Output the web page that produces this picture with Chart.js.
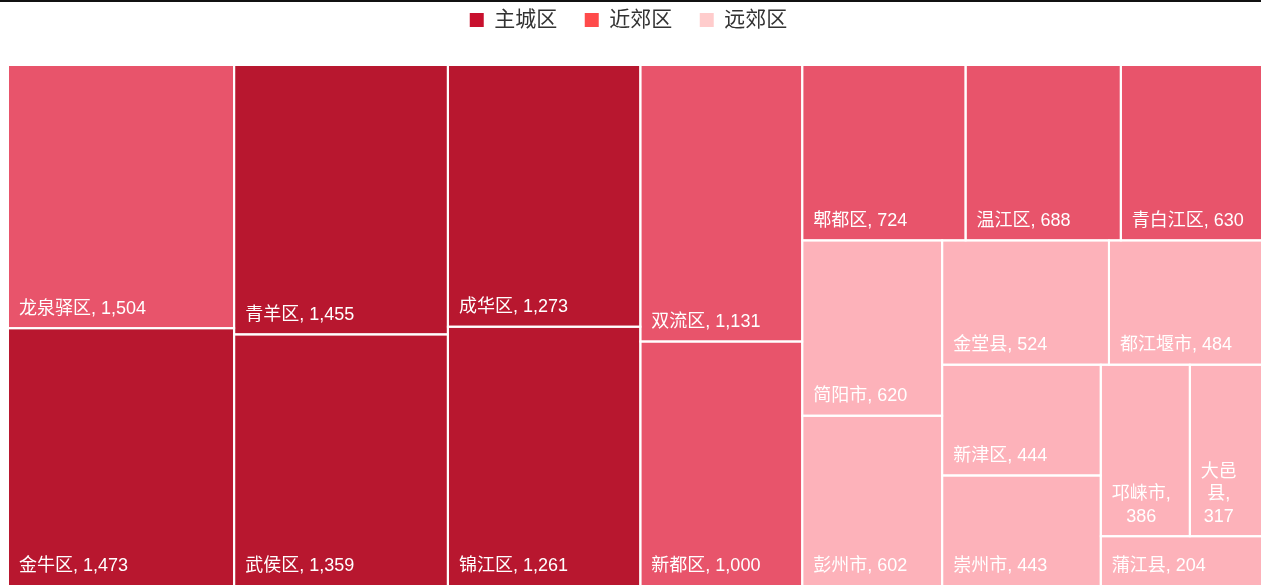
<!DOCTYPE html>
<html lang="zh-CN">
<head>
<meta charset="utf-8">
<title>成都各区县人口</title>
<script src="https://cdn.jsdelivr.net/npm/chart.js@4/dist/chart.umd.min.js"></script>
<style>
  html, body { margin: 0; padding: 0; background: #ffffff; overflow: hidden; }
  #wrap { position: relative; width: 1261px; height: 586px; overflow: hidden; }
  #topRule { position: absolute; left: 0; top: 0; width: 100%; height: 2px; background: #111111; }
  canvas { display: block; }
</style>
</head>
<body>
<div id="wrap">
  <canvas id="chart" width="1263" height="586"></canvas>
  <div id="topRule"></div>
</div>
<script>
// 区县名称与常住人口（万人）
const districts = ['龙泉驿区', '金牛区', '青羊区', '武侯区', '成华区', '锦江区', '双流区', '新都区',
  '郫都区', '温江区', '青白江区', '简阳市', '彭州市', '金堂县', '都江堰市', '新津区', '崇州市',
  '邛崃市', '大邑县', '蒲江县'];
const population = [1504, 1473, 1455, 1359, 1273, 1261, 1131, 1000, 724, 688, 630, 620, 602, 524,
  484, 444, 443, 386, 317, 204];
const zoneOfDistrict = ['近郊区', '主城区', '主城区', '主城区', '主城区', '主城区', '近郊区', '近郊区',
  '近郊区', '近郊区', '近郊区', '远郊区', '远郊区', '远郊区', '远郊区', '远郊区', '远郊区',
  '远郊区', '远郊区', '远郊区'];
const zones = ['主城区', '近郊区', '远郊区'];

// 图例色块与方块填充色
const zoneLegendColors = ['#c8102e', '#ff4b4b', '#ffcccc'];
const zoneCellColors = ['#b8172f', '#e8546b', '#fdb2ba'];

const FONT_FAMILY = '"Liberation Sans", "Noto Sans CJK SC", sans-serif';
// preferred cell shape (height / width) used when growing a strip
const PREFERRED_SHAPE = 1.19;
// width of the page that is actually visible
const VISIBLE_WIDTH = 1261;

// Strip treemap: each strip runs along the shorter side of the space that is left,
// and keeps taking the next cell while the newest cell's shape gets closer to the
// preferred shape than the previous newest cell was.
function stripLayout(values, width, height) {
  const rects = new Array(values.length);
  let rx = 0, ry = 0, rw = width, rh = height;
  let remaining = values.reduce((a, b) => a + b, 0);
  const miss = r => Math.abs(Math.log(r / PREFERRED_SHAPE));
  let i = 0;
  while (i < values.length) {
    const alongTop = rw < rh;
    const side = alongTop ? rw : rh;
    const depth = s => (s / remaining) * (alongTop ? rh : rw);
    const shape = (v, s) => {
      const t = depth(s);
      const len = (v / s) * side;
      return alongTop ? t / len : len / t;
    };
    let sum = values[i];
    let j = i + 1;
    while (j < values.length) {
      const before = miss(shape(values[j - 1], sum));
      const after = miss(shape(values[j], sum + values[j]));
      if (after > before) break;
      sum += values[j];
      j++;
    }
    const t = depth(sum);
    let offset = 0;
    for (let k = i; k < j; k++) {
      const len = (values[k] / sum) * side;
      rects[k] = alongTop
        ? { x: rx + offset, y: ry, w: len, h: t }
        : { x: rx, y: ry + offset, w: t, h: len };
      offset += len;
    }
    if (alongTop) { ry += t; rh -= t; } else { rx += t; rw -= t; }
    remaining -= sum;
    i = j;
  }
  return rects;
}

// wrap a label into lines: CJK characters break anywhere, numbers stay whole
function wrapLabel(ctx, text, maxWidth) {
  const tokens = text.match(/[\u4e00-\u9fff][,，]?|\s+|[^\s\u4e00-\u9fff]+/g) || [];
  const lines = [];
  let line = '';
  let pendingSpace = '';
  tokens.forEach(tok => {
    if (/^\s+$/.test(tok)) { pendingSpace = tok; return; }
    const candidate = line ? line + pendingSpace + tok : tok;
    if (line && ctx.measureText(candidate).width > maxWidth) {
      lines.push(line);
      line = tok;
    } else {
      line = candidate;
    }
    pendingSpace = '';
  });
  if (line) lines.push(line);
  return lines;
}

const treemapCells = {
  id: 'treemapCells',
  afterDatasetsDraw(chart) {
    const { ctx, chartArea, scales } = chart;
    const xs = scales.x, ys = scales.y;
    const order = population.map((v, i) => i).sort((a, b) => population[b] - population[a]);
    const values = order.map(i => population[i]);
    const w = chartArea.right - chartArea.left;
    const h = chartArea.bottom - chartArea.top;
    const rects = stripLayout(values, w, h);

    const cells = rects.map((r, n) => {
      const idx = order[n];
      const left = xs.getPixelForValue(r.x / w);
      const right = xs.getPixelForValue((r.x + r.w) / w);
      const top = ys.getPixelForValue(r.y / h);
      const bottom = ys.getPixelForValue((r.y + r.h) / h);
      return { idx, left, right, top, bottom };
    });

    ctx.save();
    cells.forEach(c => {
      ctx.fillStyle = zoneCellColors[zones.indexOf(zoneOfDistrict[c.idx])];
      ctx.fillRect(c.left, c.top, c.right - c.left, c.bottom - c.top);
    });
    ctx.strokeStyle = '#ffffff';
    ctx.lineWidth = 2;
    cells.forEach(c => {
      ctx.strokeRect(c.left, c.top, c.right - c.left, c.bottom - c.top);
    });

    ctx.font = '18px ' + FONT_FAMILY;
    ctx.fillStyle = '#ffffff';
    ctx.textBaseline = 'middle';
    ctx.textAlign = 'center';
    const pad = 11, lineHeight = 22.5, bottomGap = 19.5;
    cells.forEach(c => {
      const label = districts[c.idx] + ', ' + population[c.idx].toLocaleString('en-US');
      const visibleRight = Math.min(c.right, VISIBLE_WIDTH);
      const lines = wrapLabel(ctx, label, (visibleRight - c.left) - 2 * pad);
      const blockWidth = Math.max(...lines.map(l => ctx.measureText(l).width));
      const cx = c.left + pad + blockWidth / 2;
      lines.forEach((l, k) => {
        const y = c.bottom - bottomGap - (lines.length - 1 - k) * lineHeight;
        ctx.fillText(l, cx, y);
      });
    });
    ctx.restore();
  }
};

// legend sits in the top band; extra room below it before the cells start
const legendBand = {
  id: 'legendBand',
  beforeInit(chart) {
    const fit = chart.legend.fit;
    chart.legend.fit = function () {
      fit.call(this);
      this.height += 24.5;
    };
  },
  afterLayout(chart) {
    chart.legend.left = -6;
    chart.legend.right = chart.width;
  }
};

new Chart(document.getElementById('chart'), {
  type: 'scatter',
  data: {
    datasets: zones.map((z, i) => ({
      label: z,
      data: [],
      backgroundColor: zoneLegendColors[i],
      borderColor: zoneLegendColors[i],
      borderWidth: 0,
      pointRadius: 0
    }))
  },
  options: {
    responsive: false,
    animation: false,
    events: [],
    layout: { padding: { left: 8, right: 0, top: -18, bottom: 0 } },
    scales: {
      x: { type: 'linear', min: 0, max: 1, display: false },
      y: { type: 'linear', min: 0, max: 1, reverse: true, display: false }
    },
    plugins: {
      tooltip: { enabled: false },
      legend: {
        position: 'top',
        align: 'center',
        onClick: null,
        labels: {
          boxWidth: 14,
          boxHeight: 14,
          padding: 27.5,
          color: '#333333',
          font: { size: 21, family: FONT_FAMILY }
        }
      }
    }
  },
  plugins: [treemapCells, legendBand]
});
</script>
</body>
</html>
